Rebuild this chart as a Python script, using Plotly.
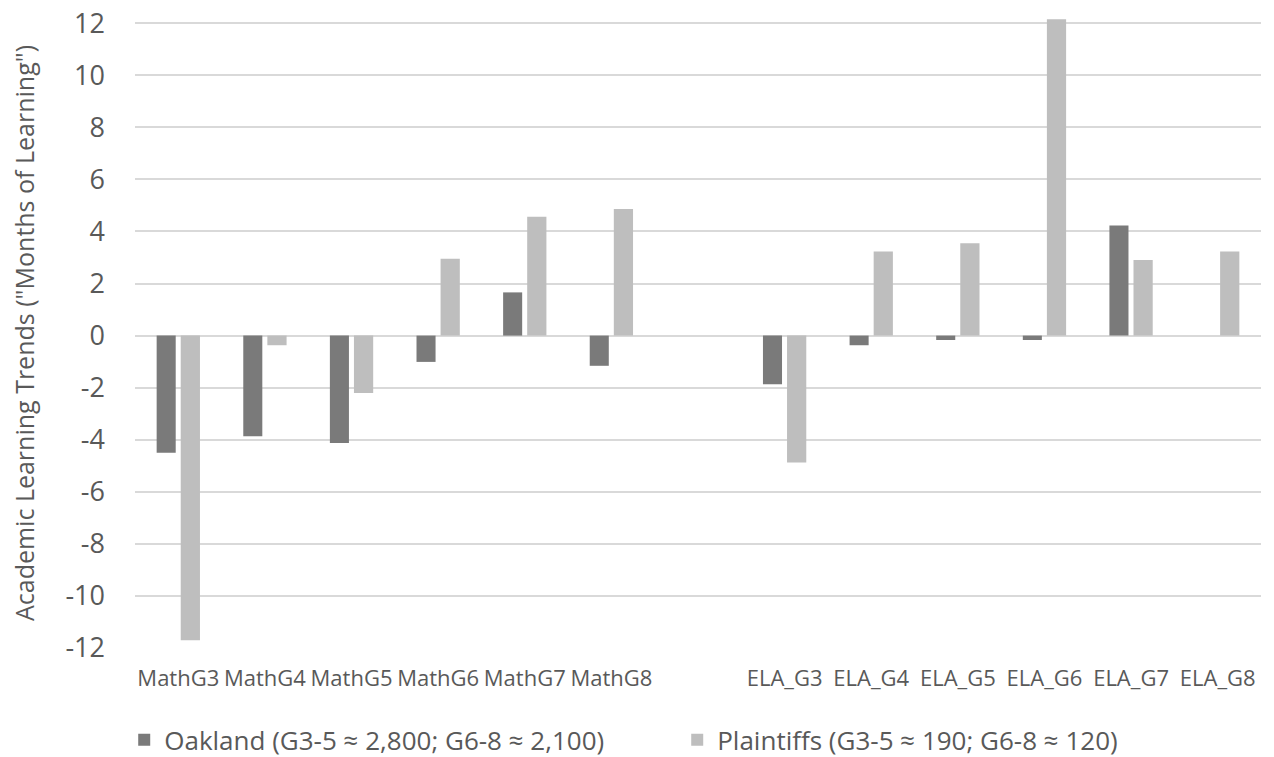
import plotly.graph_objects as go

categories = ["MathG3", "MathG4", "MathG5", "MathG6", "MathG7", "MathG8", " ",
              "ELA_G3", "ELA_G4", "ELA_G5", "ELA_G6", "ELA_G7", "ELA_G8"]
oakland = [-4.5, -3.87, -4.13, -1.01, 1.66, -1.16, None,
           -1.87, -0.37, -0.17, -0.17, 4.23, None]
plaintiffs = [-11.7, -0.37, -2.2, 2.95, 4.57, 4.86, None,
              -4.87, 3.23, 3.55, 12.15, 2.9, 3.23]
y_ticks = [-12, -10, -8, -6, -4, -2, 0, 2, 4, 6, 8, 10, 12]

name_oak = "Oakland (G3-5 ≈ 2,800; G6-8 ≈ 2,100)"
name_pl = "Plaintiffs (G3-5 ≈ 190; G6-8 ≈ 120)"

FONT = "Open Sans"
TXT = "#595959"

fig = go.Figure()
fig.add_trace(go.Bar(x=categories, y=oakland, name=name_oak,
                     marker=dict(color="#7A7A7A", line=dict(width=0)),
                     offset=-0.25, width=0.22))
fig.add_trace(go.Bar(x=categories, y=plaintiffs, name=name_pl,
                     marker=dict(color="#BEBEBE", line=dict(width=0)),
                     offset=0.028, width=0.222))

fig.update_layout(
    width=1274, height=757,
    paper_bgcolor="white", plot_bgcolor="white",
    margin=dict(l=135, r=13, t=18, b=109, autoexpand=False),
    barmode="overlay",
    font=dict(family=FONT, color=TXT),
    showlegend=True,
    legend=dict(orientation="h", xref="container", yref="container",
                x=0.0975, xanchor="left", y=0.0225, yanchor="middle",
                font=dict(size=26, color=TXT), entrywidth=508,
                itemwidth=30, traceorder="normal"),
)
fig.update_xaxes(type="category", categoryorder="array", categoryarray=categories,
                 tickangle=0, tickfont=dict(size=22, color=TXT),
                 showgrid=False, showline=False, zeroline=False, ticks="",
                 ticklabelstandoff=15)
fig.update_yaxes(range=[-12, 12.2], tickvals=y_ticks,
                 ticktext=[str(v) for v in y_ticks],
                 tickfont=dict(size=27, color=TXT),
                 showgrid=True, gridcolor="#D9D9D9", gridwidth=1.5,
                 zeroline=True, zerolinecolor="#D9D9D9", zerolinewidth=1.5,
                 showline=False, ticks="", ticklabelstandoff=29,
                 title=dict(text='Academic Learning Trends ("Months of Learning")',
                            font=dict(size=25, color=TXT), standoff=23))

fig.write_html("out.html", config={"displayModeBar": False},
               post_script="document.body.style.margin='0';")
